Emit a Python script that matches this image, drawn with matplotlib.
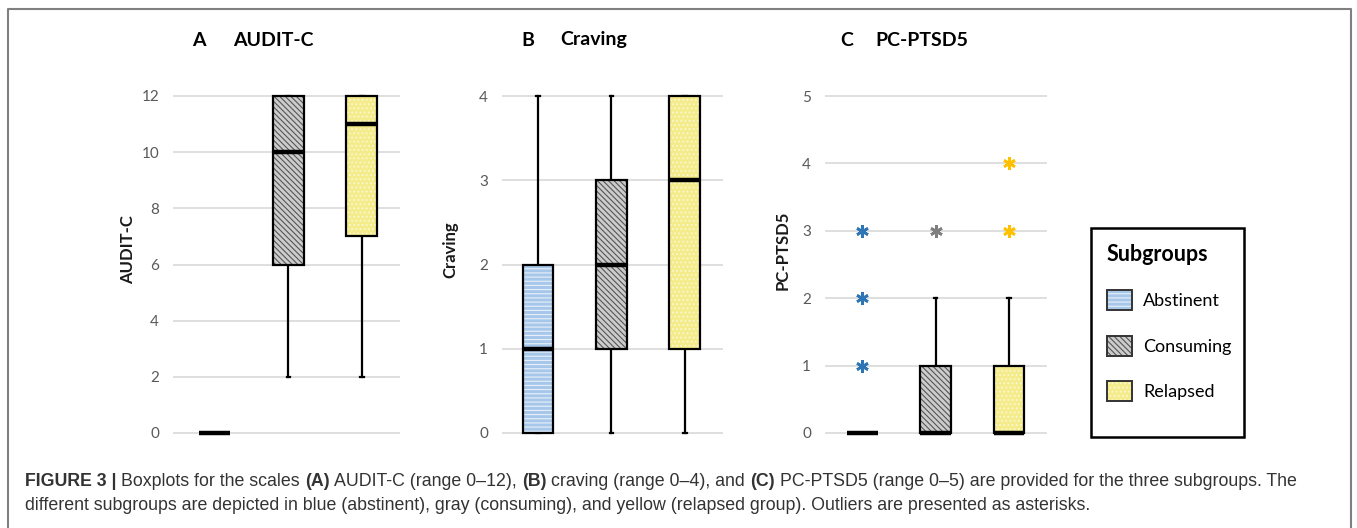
import matplotlib
matplotlib.use("Agg")
import matplotlib.pyplot as plt
from matplotlib.patches import PathPatch, Patch, Rectangle
from matplotlib.lines import Line2D

W, H = 1357, 528

groups = ["Abstinent", "Consuming", "Relapsed"]

# AUDIT-C (range 0-12)
audit_q1 = [0, 6, 7]
audit_med = [0, 10, 11]
audit_q3 = [0, 12, 12]
audit_lo = [0, 2, 2]
audit_hi = [0, 12, 12]
audit_out = [[], [], []]

# craving (range 0-4)
crav_q1 = [0, 1, 1]
crav_med = [1, 2, 3]
crav_q3 = [2, 3, 4]
crav_lo = [0, 0, 0]
crav_hi = [4, 4, 4]
crav_out = [[], [], []]

# PC-PTSD5 (range 0-5)
ptsd_q1 = [0, 0, 0]
ptsd_med = [0, 0, 0]
ptsd_q3 = [0, 1, 1]
ptsd_lo = [0, 0, 0]
ptsd_hi = [0, 2, 2]
ptsd_out = [[1, 2, 3], [3], [3, 4]]

fills = ["#a7c7ea", "#cccccc", "#f4ec8a"]
hatch_cols = ["#e8f0fa", "#555555", "#fbf7d2"]
hatches = ["----", "\\\\\\\\\\\\", "...."]
star_cols = ["#2e75b6", "#7f7f7f", "#ffc000"]

plt.rcParams["font.family"] = ["Lato", "DejaVu Sans"]
plt.rcParams["hatch.linewidth"] = 0.8

fig = plt.figure(figsize=(W / 100, H / 100), dpi=100)


def panel(left, right, y0, ytop, ymax, step, xlo):
    ppu = (y0 - ytop) / ymax
    m = 0.05 * ymax
    bottom_px = y0 + m * ppu
    top_px = ytop - m * ppu
    ax = fig.add_axes([left / W, 1 - bottom_px / H, (right - left) / W,
                       (bottom_px - top_px) / H])
    ax.set_ylim(-m, ymax + m)
    ax.set_yticks(range(0, ymax + 1, step))
    ax.set_xlim(xlo, 3.52)
    for s in ax.spines.values():
        s.set_visible(False)
    ax.tick_params(axis="y", length=0, pad=10, labelsize=11, labelcolor="#595959")
    ax.grid(axis="y", color="#d9d9d9", lw=1.2)
    ax.set_axisbelow(True)
    return ax


def draw_boxes(ax, q1, med, q3, lo, hi, out):
    for i in range(3):
        st = dict(q1=q1[i], med=med[i], q3=q3[i], whislo=lo[i], whishi=hi[i],
                  fliers=out[i])
        res = ax.bxp([st], positions=[i + 1], widths=0.42, capwidths=0.05,
                     patch_artist=True, manage_ticks=False,
                     boxprops=dict(facecolor="none", edgecolor="black", lw=1.6),
                     whiskerprops=dict(color="black", lw=1.6),
                     capprops=dict(color="black", lw=1.6),
                     medianprops=dict(color="black", lw=3.2,
                                      solid_capstyle="butt", zorder=4),
                     flierprops=dict(marker=(6, 2, 0), markersize=9,
                                     markeredgewidth=1.9,
                                     markeredgecolor=star_cols[i]))
        box = res["boxes"][0]
        box.set_zorder(3)
        ax.add_patch(PathPatch(box.get_path(), facecolor=fills[i],
                               edgecolor=hatch_cols[i], lw=0,
                               hatch=hatches[i], zorder=2.5))
    ax.set_xticks([])


ax_a = panel(173, 400, 433, 96, 12, 2, 0.43)
draw_boxes(ax_a, audit_q1, audit_med, audit_q3, audit_lo, audit_hi, audit_out)
ax_b = panel(502, 723, 433, 96, 4, 1, 0.51)
draw_boxes(ax_b, crav_q1, crav_med, crav_q3, crav_lo, crav_hi, crav_out)
ax_c = panel(825, 1047, 433, 96, 5, 1, 0.49)
draw_boxes(ax_c, ptsd_q1, ptsd_med, ptsd_q3, ptsd_lo, ptsd_hi, ptsd_out)

# axis labels and panel titles
for ax, name, lx, letter, tx_l, tx_n in [
        (ax_a, "AUDIT-C", 136, "A", 192, 233),
        (ax_b, "Craving", 458, "B", 521, 560),
        (ax_c, "PC-PTSD5", 791, "C", 840, 875)]:
    ax.set_ylabel(name, fontsize=12, fontweight="bold", color="#1a1a1a")
    ax.yaxis.set_label_coords(lx / W, 1 - 250 / H, transform=fig.transFigure)
    fig.text(tx_l / W, 1 - 40 / H, letter, fontsize=14, fontweight="bold",
             va="center", ha="left")
    fig.text(tx_n / W, 1 - 40 / H, name, fontsize=14, fontweight="bold",
             va="center", ha="left")

# legend inside a plain black frame
fig.add_artist(Rectangle((1091 / W, 1 - 437 / H), 153 / W, 209 / H,
                         transform=fig.transFigure, facecolor="white",
                         edgecolor="black", lw=1.8))
handles = []
for i in range(3):
    handles.append((Patch(facecolor=fills[i], edgecolor=hatch_cols[i], lw=0,
                          hatch=hatches[i]),
                    Patch(facecolor="none", edgecolor="#333333", lw=1.4)))
leg = fig.legend(handles, groups, loc="upper left",
                 bbox_to_anchor=(1107 / W, 1 - 244 / H),
                 title="Subgroups", alignment="left",
                 title_fontproperties={"weight": "bold", "size": 15.5},
                 fontsize=13, frameon=False, borderpad=0, borderaxespad=0,
                 labelspacing=1.4, handlelength=1.39, handleheight=1.33,
                 handletextpad=0.6)
leg.set_zorder(5)

# outer frame of the figure panel
fig.add_artist(Line2D([8 / W, 8 / W, 1351 / W, 1351 / W],
                      [0, 1 - 9 / H, 1 - 9 / H, 0],
                      transform=fig.transFigure, color="#808080", lw=1.5))

# caption with bold fragments
cap_font = ["Liberation Sans", "DejaVu Sans"]
line1 = [("FIGURE 3 |", True), ("Boxplots for the scales", False), ("(A)", True),
         ("AUDIT-C (range 0–12),", False), ("(B)", True),
         ("craving (range 0–4), and", False), ("(C)", True),
         ("PC-PTSD5 (range 0–5) are provided for the three subgroups. The", False)]
line2 = [("different subgroups are depicted in blue (abstinent), gray (consuming), "
          "and yellow (relapsed group). Outliers are presented as asterisks.", False)]

renderer = fig.canvas.get_renderer()


def width_of(s, size, bold=False):
    t = fig.text(0, 0, s, fontsize=size, family=cap_font,
                 fontweight="bold" if bold else "normal")
    w = t.get_window_extent(renderer).width
    t.remove()
    return w


cap_size = 12.8
gap = width_of("x x", cap_size) - width_of("xx", cap_size)


def draw_line(pieces, y):
    x = 25
    for s, bold in pieces:
        t = fig.text(x / W, 1 - y / H, s, fontsize=cap_size, family=cap_font,
                     fontweight="bold" if bold else "normal", color="#333333",
                     va="center", ha="left")
        x += t.get_window_extent(renderer).width + gap


draw_line(line1, 481)
draw_line(line2, 506)

fig.savefig("out.png", dpi=100)
